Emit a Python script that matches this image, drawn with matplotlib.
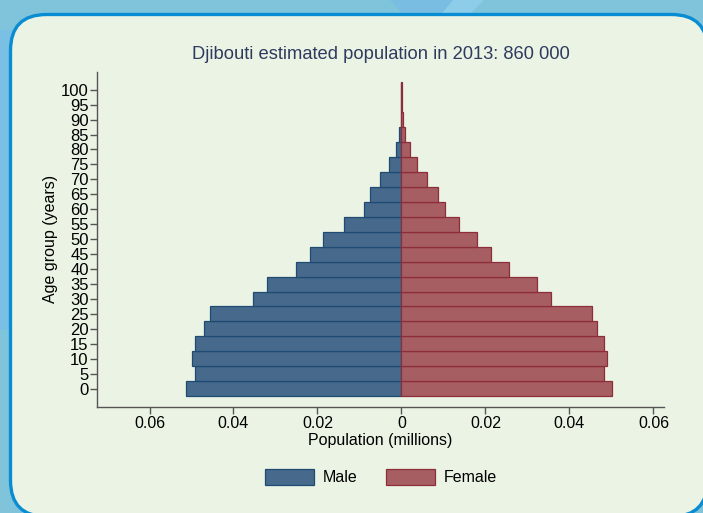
import matplotlib
matplotlib.use("Agg")
import matplotlib.pyplot as plt
from matplotlib.patches import FancyBboxPatch, Patch, Polygon
import numpy as np

plt.rcParams['font.family'] = ['Liberation Sans', 'DejaVu Sans']

ages = [0, 5, 10, 15, 20, 25, 30, 35, 40, 45, 50, 55, 60, 65, 70, 75, 80, 85, 90, 95, 100]
male = [0.0513, 0.0491, 0.0499, 0.0491, 0.0471, 0.0456, 0.0354, 0.0321, 0.0252, 0.0217,
        0.0186, 0.0136, 0.0090, 0.0075, 0.0050, 0.0029, 0.0014, 0.0005, 0.0001, 0.00003, 0.00001]
female = [0.0501, 0.0481, 0.0490, 0.0483, 0.0466, 0.0453, 0.0355, 0.0322, 0.0256, 0.0214,
          0.0179, 0.0138, 0.0103, 0.0086, 0.0060, 0.0037, 0.0020, 0.0008, 0.0003, 0.0002, 0.0001]
xticks = [-0.06, -0.04, -0.02, 0, 0.02, 0.04, 0.06]
xticklabels = ['0.06', '0.04', '0.02', '0', '0.02', '0.04', '0.06']
title = "Djibouti estimated population in 2013: 860 000"

W, H = 703, 513
fig = plt.figure(figsize=(W / 100, H / 100), dpi=100)
fig.patch.set_facecolor('#80C4DC')

# background decoration axes in pixel coordinates
bg = fig.add_axes([0, 0, 1, 1])
bg.set_xlim(0, W)
bg.set_ylim(H, 0)
bg.axis('off')
bg.add_patch(Polygon([[0, 30], [14, 30], [14, 330], [0, 330]], closed=True,
                     facecolor='#79C0E4', edgecolor='none'))
bg.add_patch(Polygon([[390, 0], [453, 0], [440, 16], [405, 16]], closed=True,
                     facecolor='#79BEE2', edgecolor='none'))
bg.add_patch(Polygon([[453, 0], [484, 0], [468, 16], [440, 16]], closed=True,
                     facecolor='#8DCDE9', edgecolor='none'))
bg.add_patch(FancyBboxPatch((10.5, 14.5), 697, 502,
                            boxstyle="round,pad=0,rounding_size=36",
                            facecolor='#EBF4E4', edgecolor='#0A8CD2', linewidth=2.4))

ax = fig.add_axes([97 / W, 1 - 406.7 / H, (664 - 97) / W, (406.7 - 71.7) / H])
ax.set_facecolor('none')

male_face, male_edge = '#476A8C', '#1F4A72'
fem_face, fem_edge = '#A65E62', '#8E2D3A'

ax.barh(ages, [-m for m in male], height=5, color=male_face, edgecolor=male_edge,
        linewidth=0.9, label='Male')
ax.barh(ages, female, height=5, color=fem_face, edgecolor=fem_edge,
        linewidth=0.9, label='Female')

ax.set_xlim(-0.0725, 0.0625)
ax.set_ylim(-6, 106)
ax.set_xticks(xticks)
ax.set_xticklabels(xticklabels)
ax.set_yticks(ages)
ax.set_yticklabels([str(a) for a in ages])

for s in ['top', 'right']:
    ax.spines[s].set_visible(False)
for s in ['left', 'bottom']:
    ax.spines[s].set_color('#555555')
    ax.spines[s].set_linewidth(1.0)
ax.tick_params(axis='both', colors='#555555', labelcolor='black', length=5, width=1,
               labelsize=11.5, pad=2)
ax.tick_params(axis='y', labelsize=12, pad=1)

ax.set_xlabel('Population (millions)', fontsize=11.5, labelpad=1)
ax.set_ylabel('Age group (years)', fontsize=11.5, labelpad=2)

fig.text(381 / W, 1 - 55 / H, title, ha='center', va='center', fontsize=13.2, color='#2E3B5E')

handles = [Patch(facecolor=male_face, edgecolor=male_edge, linewidth=0.9, label='Male'),
           Patch(facecolor=fem_face, edgecolor=fem_edge, linewidth=0.9, label='Female')]
fig.legend(handles=handles, loc='center', bbox_to_anchor=(381 / W, 1 - 477 / H), ncol=2,
           frameon=False, fontsize=11.5, handlelength=3.05, handleheight=1.15,
           columnspacing=1.8, handletextpad=0.55)

fig.savefig('out.png', dpi=100)
